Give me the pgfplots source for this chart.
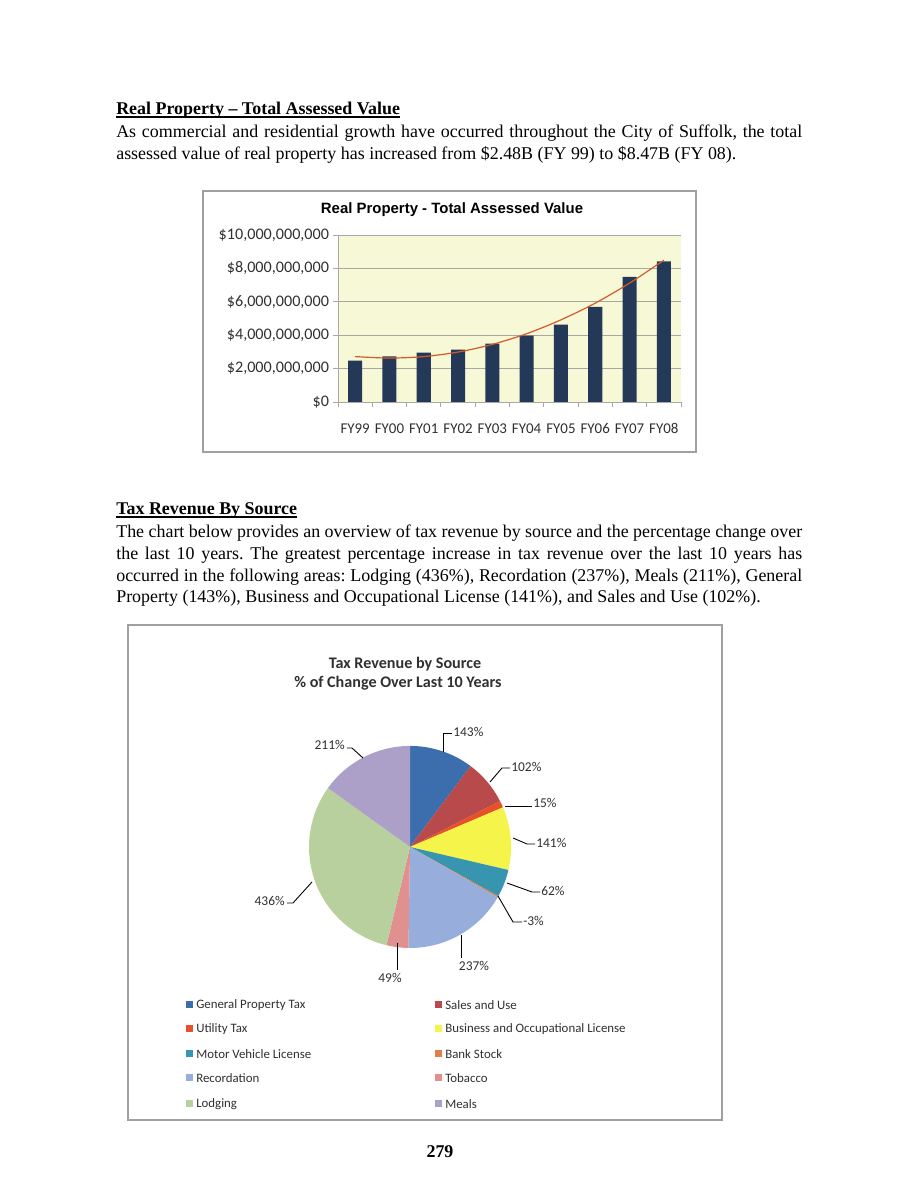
\documentclass[border=0pt]{standalone}
\usepackage{pgfplots}
\pgfplotsset{compat=1.18}
\usepackage{pgfplotstable}
\usepackage{fontspec}
\setmainfont{Liberation Serif}
\newfontfamily\calib{Carlito}
\newfontfamily\arl{Liberation Sans}

\definecolor{navy}{HTML}{243858}
\definecolor{trendc}{HTML}{D55A2A}
\definecolor{bgY}{HTML}{F7F8D6}
\definecolor{gridc}{HTML}{A8A8A8}
\definecolor{boxc}{HTML}{A0A0A0}
\definecolor{txt}{HTML}{303030}
\definecolor{pc0}{HTML}{3C6EAE}
\definecolor{pc1}{HTML}{B84A4B}
\definecolor{pc2}{HTML}{E8502A}
\definecolor{pc3}{HTML}{F4F44A}
\definecolor{pc4}{HTML}{3795B0}
\definecolor{pc5}{HTML}{E07E48}
\definecolor{pc6}{HTML}{97AEDC}
\definecolor{pc7}{HTML}{E0908F}
\definecolor{pc8}{HTML}{B8D09E}
\definecolor{pc9}{HTML}{ACA0C8}

% Real property assessed value, billions of dollars
\pgfplotstableread{
yr val
1 2.48
2 2.73
3 2.95
4 3.13
5 3.49
6 3.98
7 4.64
8 5.70
9 7.49
10 8.42
}\bartable

% trend line (as drawn in the chart)
\pgfplotstableread{
yr trend
1 2.72
2 2.63
3 2.72
4 2.99
5 3.45
6 4.09
7 4.92
8 5.92
9 7.12
10 8.49
}\trendtable

% pie slices: percent change (absolute value sets slice size)
\pgfplotstableread{
val
143
102
15
141
62
3
237
49
436
211
}\pietable

\newcommand\bodyfont{\fontsize{12}{14}\selectfont}
\frenchspacing

\begin{document}
\begin{tikzpicture}
% ---------- bar chart axis (positions in pt; 1 px = 0.66912 pt) ----------
\begin{axis}[
  at={(226.16pt,525.93pt)}, anchor=south west,
  scale only axis, width=229.5pt, height=111.7pt,
  xmin=0.5, xmax=10.5, ymin=0, ymax=10,
  axis x line*=bottom, axis y line*=left,
  axis line style={draw=gridc, line width=0.6pt},
  axis background/.style={fill=bgY},
  ymajorgrids, grid style={gridc, line width=0.6pt},
  ytick={0,2,4,6,8,10},
  yticklabels={{\$0},{\$2,000,000,000},{\$4,000,000,000},{\$6,000,000,000},{\$8,000,000,000},{\$10,000,000,000}},
  xtick={1,2,3,4,5,6,7,8,9,10},
  xticklabels={FY99,FY00,FY01,FY02,FY03,FY04,FY05,FY06,FY07,FY08},
  minor xtick={0.5,1.5,2.5,3.5,4.5,5.5,6.5,7.5,8.5,9.5,10.5},
  tick align=outside,
  major tick length=3.5pt, minor tick length=3.5pt,
  every major x tick/.append style={draw=none},
  every minor x tick/.append style={draw=gridc, line width=0.6pt},
  every major y tick/.append style={draw=gridc, line width=0.6pt},
  xticklabel style={font=\calib\fontsize{10}{11}\selectfont, text=txt, text height=7pt, text depth=1pt, yshift=-7pt},
  yticklabel style={font=\calib\fontsize{10.8}{12}\selectfont, text=txt, xshift=1pt},
]
\addplot[ybar, bar width=0.41, fill=navy, draw=none] table[x=yr, y=val] {\bartable};
\addplot[trendc, line width=0.8pt, smooth, no marks] table[x=yr, y=trend] {\trendtable};
\end{axis}

% ---------- pie axis ----------
\begin{axis}[
  at={(206.76pt,160.59pt)}, anchor=south west,
  scale only axis, width=135.2pt, height=135.2pt,
  xmin=-1, xmax=1, ymin=-1, ymax=1,
  hide axis, clip=false,
]
\def\total{0}
\pgfplotsforeachungrouped \i in {0,...,9}{%
  \pgfplotstablegetelem{\i}{val}\of\pietable
  \pgfmathsetmacro\total{\total+\pgfplotsretval}%
}
\def\cum{0}
\pgfplotsforeachungrouped \i in {0,...,9}{%
  \pgfplotstablegetelem{\i}{val}\of\pietable
  \pgfmathsetmacro\sa{90-(\cum/\total)*360}%
  \pgfmathsetmacro\cum{\cum+\pgfplotsretval}%
  \pgfmathsetmacro\ea{90-(\cum/\total)*360}%
  \pgfmathsetmacro\cx{cos(\sa)}%
  \pgfmathsetmacro\cy{sin(\sa)}%
  \edef\temp{\noexpand\fill[pc\i] (axis cs:0,0) -- (axis cs:\cx,\cy) arc[start angle=\sa, end angle=\ea, radius=67.6pt] -- cycle;}%
  \temp
}
\end{axis}

\begin{scope}[x=0.66912pt, y=0.66912pt]
\useasboundingbox (0,0) rectangle (918,1188);

% ---------- page text ----------
\node[anchor=base west, inner sep=0pt, font=\bodyfont\bfseries] (h1) at (116,1073.5) {Real Property -- Total Assessed Value};
\draw[line width=0.75pt] ([yshift=-1.7pt]h1.base west) -- ([yshift=-1.7pt]h1.base east);
\node[anchor=base west, inner sep=0pt, font=\bodyfont] at (116,1050.5) {\makebox[459pt][s]{As commercial and residential growth have occurred throughout the City of Suffolk, the total}};
\node[anchor=base west, inner sep=0pt, font=\bodyfont] at (116,1028.5) {assessed value of real property has increased from \$2.48B (FY 99) to \$8.47B (FY 08).};

\node[anchor=base west, inner sep=0pt, font=\bodyfont\bfseries] (h2) at (116,673.5) {Tax Revenue By Source};
\draw[line width=0.75pt] ([yshift=-1.7pt]h2.base west) -- ([yshift=-1.7pt]h2.base east);
\node[anchor=base west, inner sep=0pt, font=\bodyfont] at (116,650.5) {\makebox[459pt][s]{The chart below provides an overview of tax revenue by source and the percentage change over}};
\node[anchor=base west, inner sep=0pt, font=\bodyfont] at (116,628.5) {\makebox[459pt][s]{the last 10 years. The greatest percentage increase in tax revenue over the last 10 years has}};
\node[anchor=base west, inner sep=0pt, font=\bodyfont] at (116,606.5) {\makebox[459pt][s]{occurred in the following areas: Lodging (436\%), Recordation (237\%), Meals (211\%), General}};
\node[anchor=base west, inner sep=0pt, font=\bodyfont] at (116,585.5) {Property (143\%), Business and Occupational License (141\%), and Sales and Use (102\%).};

\node[anchor=base, inner sep=0pt, font=\bodyfont\bfseries] at (440,31) {279};

% ---------- bar chart frame and title ----------
\draw[boxc, line width=0.7pt] (203,736) rectangle (696,997);
\node[inner sep=0pt, font=\arl\bfseries\fontsize{10}{11}\selectfont] at (452,978) {Real Property - Total Assessed Value};

% ---------- pie chart frame and titles ----------
\draw[boxc, line width=0.7pt] (128,68) rectangle (722,563);
\node[inner sep=0pt, font=\calib\bfseries\fontsize{10.8}{12}\selectfont, text=txt] at (405,524) {Tax Revenue by Source};
\node[inner sep=0pt, font=\calib\bfseries\fontsize{10.8}{12}\selectfont, text=txt] at (398,505) {\% of Change Over Last 10 Years};

% leaders and data labels
\begin{scope}[line width=0.6pt, black]
\draw (443,436) -- (443,455) -- (452,455);
\draw (490,406) -- (502,420) -- (510,420);
\draw (505,382) -- (532,382);
\draw (513,350) -- (527,344) -- (535,344);
\draw (507,305) -- (532,296) -- (540,296);
\draw (498,292) -- (513,266) -- (522,266);
\draw (461,253) -- (461,230);
\draw (397,245) -- (397,218);
\draw (312,306) -- (293,285) -- (287,285);
\draw (363,430) -- (352,440) -- (347,440);
\end{scope}
\begin{scope}[every node/.style={inner sep=0pt, font=\calib\fontsize{9}{10}\selectfont, text=txt}]
\node[anchor=west] at (453,456) {143\%};
\node[anchor=west] at (511,421) {102\%};
\node[anchor=west] at (533,385) {15\%};
\node[anchor=west] at (536,345) {141\%};
\node[anchor=west] at (541,297) {62\%};
\node[anchor=west] at (523,267) {-3\%};
\node at (474,222) {237\%};
\node at (390,210) {49\%};
\node[anchor=east] at (285,287) {436\%};
\node[anchor=east] at (345,443) {211\%};
\end{scope}

% legend
\begin{scope}[every node/.style={inner sep=0pt, anchor=west, font=\calib\fontsize{8.6}{10}\selectfont, text=txt}]
\fill[pc0] (186,179.5) rectangle (193,186.5); \node at (196,183) {General Property Tax};
\fill[pc2] (186,155.5) rectangle (193,162.5); \node at (196,159) {Utility Tax};
\fill[pc4] (186,130.5) rectangle (193,137.5); \node at (196,134) {Motor Vehicle License};
\fill[pc6] (186,106.5) rectangle (193,113.5); \node at (196,110) {Recordation};
\fill[pc8] (186,80.5) rectangle (193,87.5); \node at (196,84) {Lodging};
\fill[pc1] (435,179.5) rectangle (442,186.5); \node at (445,183) {Sales and Use};
\fill[pc3] (435,155.5) rectangle (442,162.5); \node at (445,159) {Business and Occupational License};
\fill[pc5] (435,130.5) rectangle (442,137.5); \node at (445,134) {Bank Stock};
\fill[pc7] (435,106.5) rectangle (442,113.5); \node at (445,110) {Tobacco};
\fill[pc9] (435,80.5) rectangle (442,87.5); \node at (445,84) {Meals};
\end{scope}
\end{scope}
\end{tikzpicture}
\end{document}
